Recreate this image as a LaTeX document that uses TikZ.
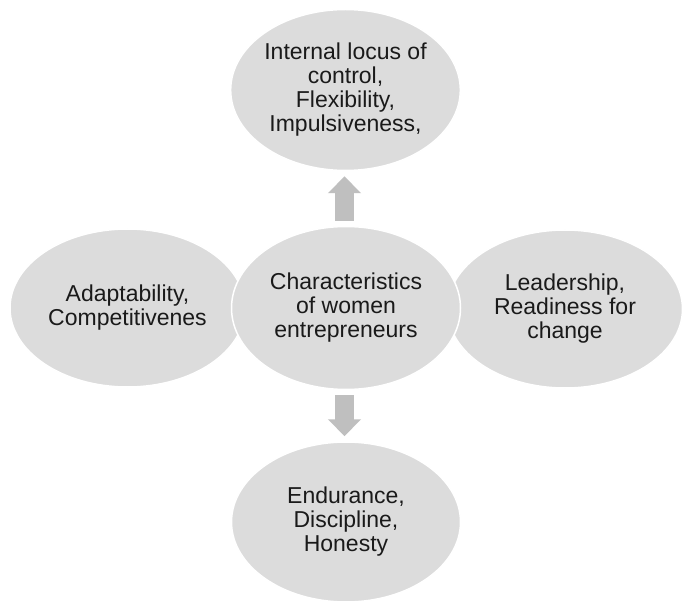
\documentclass[tikz,border=0pt]{standalone}
\usepackage{fontspec}
\setmainfont{Liberation Sans}
\usetikzlibrary{shapes.geometric,arrows.meta}
\definecolor{bubblefill}{RGB}{220,220,220}
\definecolor{arrowfill}{RGB}{191,191,191}
\definecolor{textdark}{RGB}{26,26,26}
\begin{document}
\begin{tikzpicture}[x=1pt,y=-1pt,
  bubble/.style={ellipse,fill=bubblefill,draw=white,line width=1.5pt,
    inner sep=0pt,align=center,text=textdark,
    font=\fontsize{23}{24}\selectfont},
  fatarrow/.style={draw=arrowfill,line width=19pt,
    -{Triangle[width=32pt,length=17pt,fill=arrowfill]},
    shorten <=5pt,shorten >=5pt}]
  \useasboundingbox[fill=white] (0,0) rectangle (685,601);
  % side bubbles sit behind the central one
  \node[bubble,minimum width=235pt,minimum height=158pt] (left) at (127.5,308)
    {Adaptability,\\Competitivenes};
  \node[bubble,minimum width=235pt,minimum height=158pt] (right) at (565,309)
    {Leadership,\\Readiness for\\change};
  \node[bubble,minimum width=229pt,minimum height=163pt] (center) at (346,308)
    {Characteristics\\of women\\entrepreneurs};
  \node[bubble,minimum width=229pt,minimum height=161pt] (top) at (345.5,90)
    {Internal locus of\\control,\\Flexibility,\\Impulsiveness,};
  \node[bubble,minimum width=229pt,minimum height=160pt] (bottom) at (346,522)
    {Endurance,\\Discipline,\\Honesty};
  % block arrows between the central bubble and the top/bottom ones
  \draw[fatarrow] (center.north -| 344.5,0) -- (top.south -| 344.5,0);
  \draw[fatarrow] (center.south -| 344.5,0) -- (bottom.north -| 344.5,0);
\end{tikzpicture}
\end{document}
